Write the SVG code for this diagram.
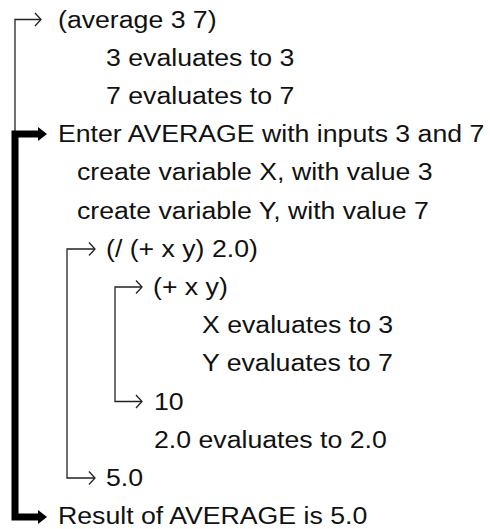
<svg xmlns="http://www.w3.org/2000/svg" width="490" height="529" viewBox="0 0 490 529">
  <style>
    text { font-family: "Liberation Sans", Arial, sans-serif; font-size: 23px; fill: #111; }
    .thin { fill: none; stroke: #222; stroke-width: 1.3; }
    .thick { fill: none; stroke: #000; stroke-width: 7; }
  </style>
  <defs>
    <marker id="chev" markerUnits="userSpaceOnUse" viewBox="-8 -8 10 16" markerWidth="10" markerHeight="16" refX="0" refY="0" orient="auto-start-reverse">
      <path d="M-6,-6.5 L0,0 L-6,6.5" fill="none" stroke="#222" stroke-width="1.3"/>
    </marker>
    <marker id="tri" markerUnits="userSpaceOnUse" viewBox="0 -8 10 16" markerWidth="10" markerHeight="16" refX="0" refY="0" orient="auto-start-reverse">
      <path d="M0,-7 L9,0 L0,7 Z" fill="#000"/>
    </marker>
  </defs>
  <g id="connectors">
    <path class="thin" d="M15 131 V19.5 H41" marker-end="url(#chev)"/>
    <path class="thick" d="M38 134 H15 V517 H38" marker-start="url(#tri)" marker-end="url(#tri)"/>
    <path class="thin" d="M95 249 H67 V478 H95" marker-start="url(#chev)" marker-end="url(#chev)"/>
    <path class="thin" d="M142 287 H115 V401.5 H142" marker-start="url(#chev)" marker-end="url(#chev)"/>
  </g>
  <g id="n0"><text transform="translate(58 27.5) scale(1.16 1)">(average 3 7)</text></g>
  <g id="n1"><text transform="translate(106 65.7) scale(1.16 1)">3 evaluates to 3</text></g>
  <g id="n2"><text transform="translate(106 103.9) scale(1.16 1)">7 evaluates to 7</text></g>
  <g id="n3"><text transform="translate(58 142.1) scale(1.16 1)">Enter AVERAGE with inputs 3 and 7</text></g>
  <g id="n4"><text transform="translate(77 180.3) scale(1.16 1)">create variable X, with value 3</text></g>
  <g id="n5"><text transform="translate(77 218.5) scale(1.16 1)">create variable Y, with value 7</text></g>
  <g id="n6"><text transform="translate(106 256.7) scale(1.16 1)">(/ (+ x y) 2.0)</text></g>
  <g id="n7"><text transform="translate(153 294.9) scale(1.16 1)">(+ x y)</text></g>
  <g id="n8"><text transform="translate(202 333.1) scale(1.16 1)">X evaluates to 3</text></g>
  <g id="n9"><text transform="translate(202 371.3) scale(1.16 1)">Y evaluates to 7</text></g>
  <g id="n10"><text transform="translate(154 409.5) scale(1.16 1)">10</text></g>
  <g id="n11"><text transform="translate(154 447.7) scale(1.16 1)">2.0 evaluates to 2.0</text></g>
  <g id="n12"><text transform="translate(106 485.9) scale(1.16 1)">5.0</text></g>
  <g id="n13"><text transform="translate(58 524.1) scale(1.16 1)">Result of AVERAGE is 5.0</text></g>
</svg>
